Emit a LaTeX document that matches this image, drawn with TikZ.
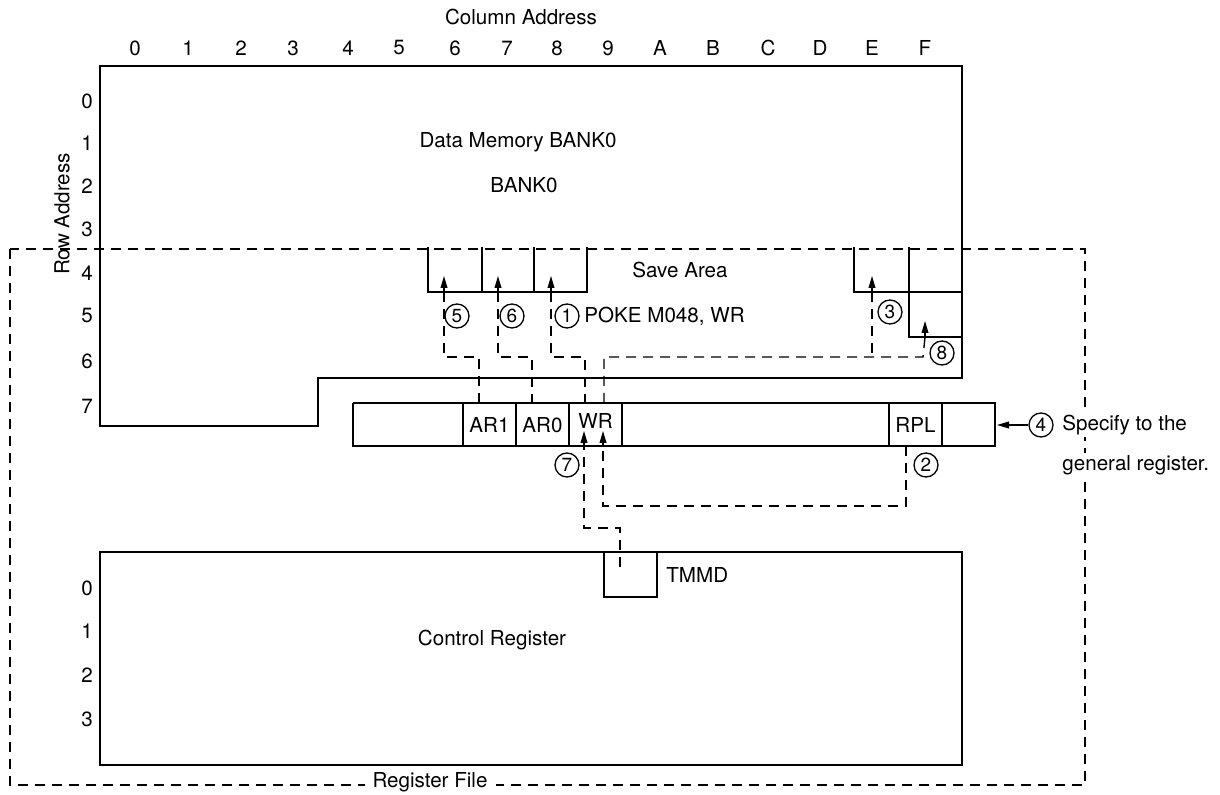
\documentclass[tikz,border=0pt]{standalone}
\usepackage{fontspec}
\setmainfont{TeX Gyre Heros}
\usetikzlibrary{arrows.meta}
\tikzset{
  thickline/.style={line width=1.4pt},
  cellline/.style={line width=0.9pt},
  dline/.style={line width=0.7pt, dash pattern=on 5pt off 3.5pt},
  lbl/.style={font=\fontsize{10.3}{12}\selectfont, inner sep=1pt},
  circnum/.style={circle, draw, line width=0.65pt, minimum size=12pt, inner sep=0pt, font=\fontsize{9.5}{9.5}\selectfont},
  uparrow/.style={-{Triangle[length=6pt,width=3.4pt]}, line width=0.6pt},
}
\begin{document}
\begin{tikzpicture}[x=0.5pt,y=-0.5pt]
\useasboundingbox (0,0) rectangle (1220,795);

% Register File boundary
\draw[dline] (10,249) rectangle (1085,785);
\node[lbl, fill=white, inner xsep=4pt] (rf) at (430,782) {Register File};

% Data memory outline
\draw[thickline] (100,66) -- (962,66) -- (962,378) -- (318,378) -- (318,426) -- (100,426) -- cycle;

% Column addresses
\node[lbl] (colad) at (521,17) {Column Address};
\foreach \x/\t in {135/0,188/1,241/2,293/3,348/4,399/5,455/6,507/7,557/8,608/9,660/A,713/B,768/C,820/D,872/E,925/F}
  \node[lbl] (col\t) at (\x,48) {\t};

% Row addresses
\foreach \y/\t in {101/0,143/1,186/2,229/3,273/4,316/5,361/6,406/7}
  \node[lbl] (row\t) at (87,\y) {\t};
\node[lbl, rotate=90] (rowad) at (62,214) {Row Address};

\node[lbl] (dm) at (518,142) {Data Memory BANK0};
\node[lbl] (bk) at (524,185) {BANK0};

% Save area cells
\draw[cellline] (428,247) -- (428,292) -- (587,292) -- (587,247);
\draw[cellline] (482,247) -- (482,292);
\draw[cellline] (534,247) -- (534,292);
\draw[cellline] (854,247) -- (854,292) -- (962,292);
\draw[cellline] (909,247) -- (909,337) -- (962,337);
\node[lbl] (sa) at (680,270) {Save Area};

% arrow points in save area
\coordinate (s5) at (444,292);
\coordinate (s6) at (498,292);
\coordinate (s1) at (551,292);
\coordinate (s3) at (872,292);
\coordinate (s8) at (925,337);
\foreach \c in {s5,s6,s1,s3,s8}
  \draw[uparrow] (\c) -- ++(0,-16);

% Register row
\draw[cellline] (353,403) -- (995,403);
\draw[thickline] (353,403) -- (353,446) -- (995,446) -- (995,403) -- (353,403);
\foreach \x in {463,516,569,622,889,942}
  \draw[cellline] (\x,403) -- (\x,446);
\node[lbl] (ar1) at (489.5,425) {AR1};
\node[lbl] (ar0) at (542.5,425) {AR0};
\node[lbl] (wr) at (595.5,421) {WR};
\node[lbl] (rpl) at (915.5,425) {RPL};

\coordinate (r5) at (479,403);
\coordinate (r6) at (532,403);
\coordinate (r1) at (585,403);
\coordinate (r3) at (604,403);
\coordinate (b7) at (584,446);
\coordinate (b2) at (603,446);
\coordinate (rpb) at (906,446);
\coordinate (regE) at (997,425);

% dashed transfers to save area
\draw[dline] (s5) -- ++(0,65) -| (r5);
\draw[dline] (s6) -- ++(0,65) -| (r6);
\draw[dline] (s1) -- ++(0,65) -| (r1);
\draw[dline] (r3) |- (923,357) -- (s8);
\draw[dline] (s3) -- (872,357);

% arrows at register bottom
\draw[uparrow] (b7) -- ++(0,-15);
\draw[uparrow] (b2) -- ++(0,-15);

% Control register
\draw[thickline] (100,552) rectangle (962,765);
\draw[cellline] (604,552) -- (604,597) -- (657,597) -- (657,552);
\node[lbl, anchor=west] (tmmd) at (664,575) {TMMD};
\coordinate (tm) at (620,567);
\foreach \y/\t in {588/0,631/1,675/2,719/3}
  \node[lbl] (crow\t) at (87,\y) {\t};
\node[lbl] (cr) at (492,640) {Control Register};

\draw[dline] (tm) -- (620,528) -| (b7);
\draw[dline] (rpb) |- (603,506) -- (b2);

% circled numbers
\node[circnum] (n5) at (457,316) {5};
\node[circnum] (n6) at (512,316) {6};
\node[circnum] (n1) at (567,316) {1};
\node[lbl, anchor=west] (poke) at (582,316) {POKE M048, WR};
\node[circnum] (n3) at (890,312) {3};
\node[circnum] (n8) at (942,353) {8};
\node[circnum] (n7) at (567,465) {7};
\node[circnum] (n2) at (926,465) {2};
\node[circnum, fill=white] (n4) at (1041,425) {4};
\draw[uparrow] (n4.west) -- (regE);
\node[lbl, anchor=west, fill=white] (sp1) at (1060,425) {Specify to the};
\node[lbl, anchor=west, fill=white] (sp2) at (1060,465) {general register.};
\end{tikzpicture}
\end{document}
